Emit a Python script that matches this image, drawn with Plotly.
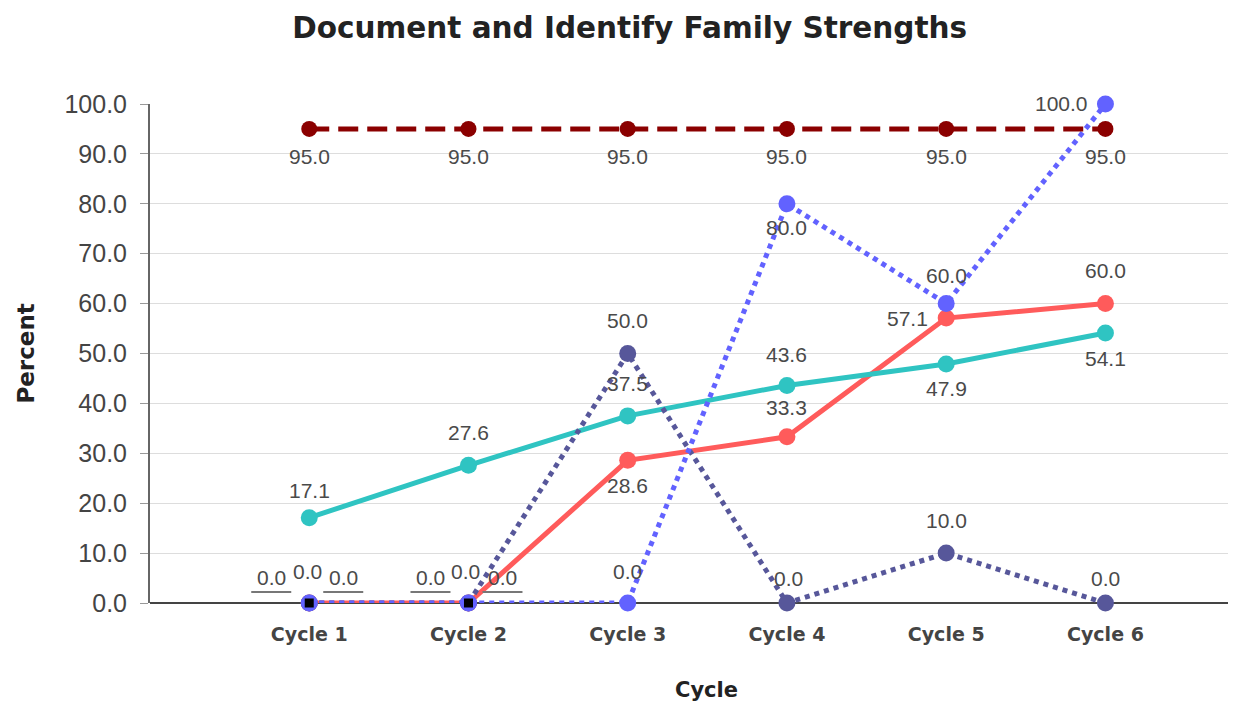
import plotly.graph_objects as go

categories = ["Cycle 1", "Cycle 2", "Cycle 3", "Cycle 4", "Cycle 5", "Cycle 6"]
target = [95.0, 95.0, 95.0, 95.0, 95.0, 95.0]
teal = [17.1, 27.6, 37.5, 43.6, 47.9, 54.1]
salmon = [0.0, 0.0, 28.6, 33.3, 57.1, 60.0]
blue = [0.0, 0.0, 0.0, 80.0, 60.0, 100.0]
slate = [0.0, 0.0, 50.0, 0.0, 10.0, 0.0]
black = [0.0, 0.0, None, None, None, None]
y_ticks = [0, 10, 20, 30, 40, 50, 60, 70, 80, 90, 100]

# label offsets in pixels (dx, dy) per point
lab_target = [(0, -28)] * 6
lab_teal = [(0, 27), (0, 33), (0, 32), (0, 31), (0, -25), (0, -25)]
lab_salmon = [(-38, 26), (-38, 26), (0, -25), (0, 29), (-39, 0), (0, 33)]
lab_blue = [(-2, 32), (-3, 32), (0, 32), (0, -24), (0, 28), (-44, 1)]
lab_slate = [(34, 26), (34, 26), (0, 33), (2, 25), (0, 33), (0, 25)]

LABEL_FONT = dict(family="Liberation Sans", size=21, color="#4a4a4a")
BOLD_FONT = "DejaVu Sans"

fig = go.Figure()

def add_series(vals, color, dash, width, msize, symbol="circle", mode="lines+markers"):
    fig.add_trace(go.Scatter(
        x=categories, y=vals, mode=mode,
        line=dict(color=color, width=width, dash=dash),
        marker=dict(color=color, size=msize, symbol=symbol),
        showlegend=False, hoverinfo="skip", cliponaxis=False,
    ))

add_series(salmon, "#ff5b5b", "solid", 5, 17)
add_series(teal, "#2fc4c2", "solid", 5, 17)
add_series(slate, "#57579a", "dot", 5, 17)
add_series(blue, "#6262ff", "dot", 5, 17)
add_series(black, "#000000", "solid", 2, 9, "square", mode="markers")
add_series(target, "#8b0000", "20px,9px", 5, 16)

annotations = []
def add_labels(vals, offs):
    for i, (v, o) in enumerate(zip(vals, offs)):
        if v is None or o is None:
            continue
        annotations.append(dict(
            x=categories[i], y=v, xref="x", yref="y", text=f"{v:.1f}",
            showarrow=False, xshift=o[0], yshift=o[1], font=LABEL_FONT,
        ))

add_labels(target, lab_target)
add_labels(teal, lab_teal)
add_labels(salmon, lab_salmon)
add_labels(blue, lab_blue)
add_labels(slate, lab_slate)

annotations.append(dict(
    x=0.512, y=-0.174, xref="paper", yref="paper", text="<b>Cycle</b>",
    showarrow=False, xanchor="center", yanchor="middle",
    font=dict(family=BOLD_FONT, size=21, color="#222222"),
))
annotations.append(dict(
    x=-0.115, y=0.5, xref="paper", yref="paper", text="<b>Percent</b>",
    showarrow=False, textangle=-90, xanchor="center", yanchor="middle",
    font=dict(family=BOLD_FONT, size=23, color="#222222"),
))

shapes = []
for i in [0, 1]:
    for dx in (-38, 34):
        shapes.append(dict(
            type="line", xref="x", yref="y", xsizemode="pixel", ysizemode="pixel",
            xanchor=i, yanchor=0, x0=dx - 20, x1=dx + 20, y0=11, y1=11,
            line=dict(color="#777777", width=2),
        ))

fig.update_layout(
    width=1236, height=709,
    margin=dict(l=142, r=8, t=96, b=114),
    plot_bgcolor="white", paper_bgcolor="white",
    title=dict(text="<b>Document and Identify Family Strengths</b>", x=0.503, xanchor="center",
               y=0.972, yanchor="middle",
               font=dict(family=BOLD_FONT, size=29.5, color="#222222")),
    xaxis=dict(range=[-1, 5.82], showgrid=False, showline=False, ticks="",
               tickfont=dict(family=BOLD_FONT, size=19, color="#444444", weight="bold"),
               ticklabelstandoff=18),
    yaxis=dict(range=[0, 100], tickvals=y_ticks, tickformat=".1f",
               showgrid=True, gridcolor="#dddddd", gridwidth=1,
               showline=True, linecolor="#666666", linewidth=2,
               ticks="outside", ticklen=8, tickcolor="#999999",
               tickfont=dict(family="Liberation Sans", size=25, color="#444444"),
               ticklabelstandoff=8,
               zeroline=True, zerolinecolor="#444444", zerolinewidth=2),
    annotations=annotations, shapes=shapes,
)

fig.write_html("out.html")
